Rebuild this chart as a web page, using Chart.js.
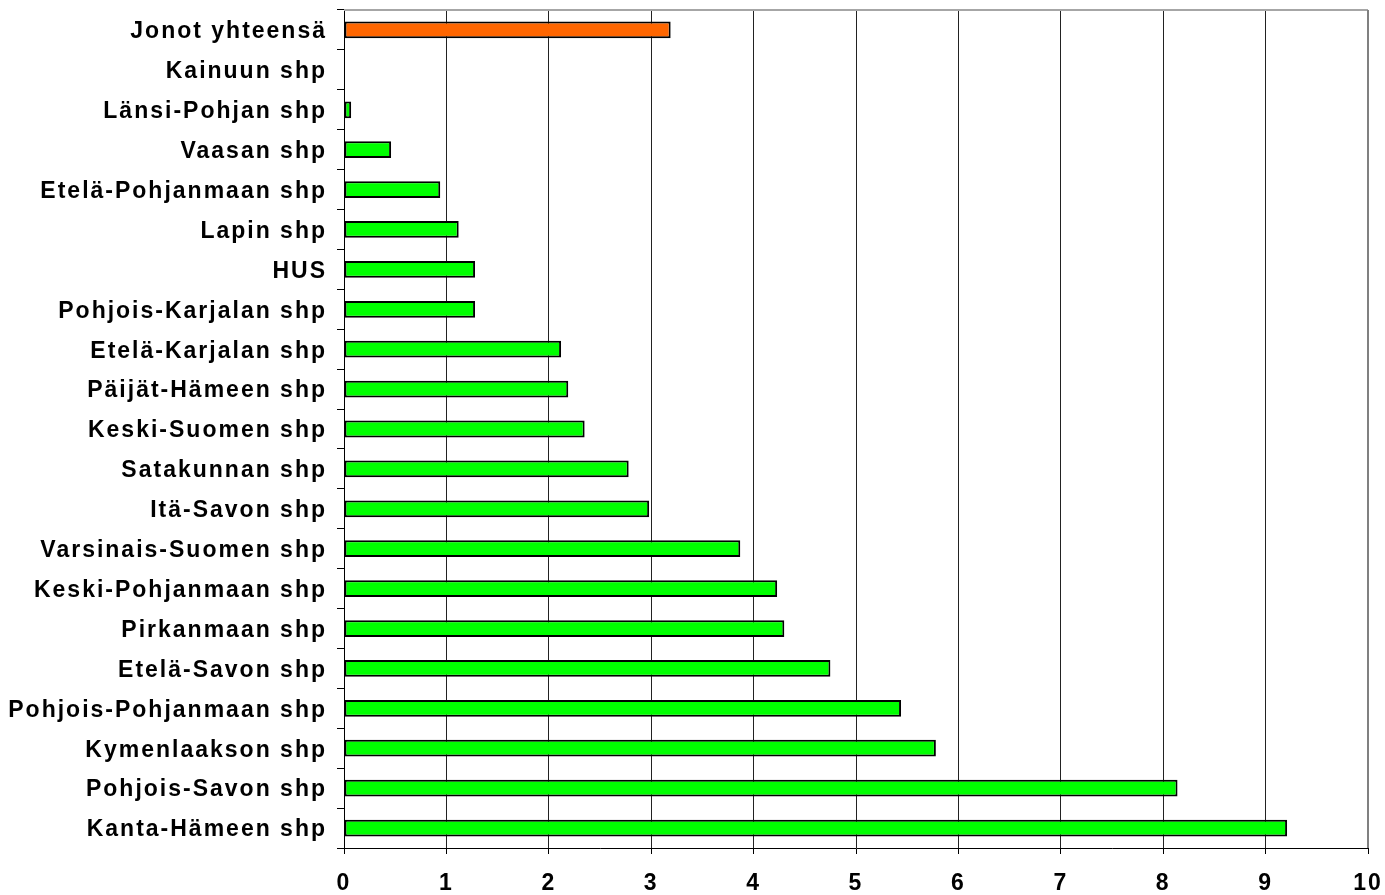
<!DOCTYPE html>
<html>
<head>
<meta charset="utf-8">
<script src="https://cdn.jsdelivr.net/npm/chart.js@4/dist/chart.umd.min.js"></script>
<style>
  html, body { margin: 0; padding: 0; background: #fff; }
  #wrap { position: relative; width: 1385px; height: 895px; }
</style>
</head>
<body>
<div id="wrap"><canvas id="chart"></canvas></div>
<script>
// Data
const regions = [
  'Jonot yhteensä', 'Kainuun shp', 'Länsi-Pohjan shp', 'Vaasan shp', 'Etelä-Pohjanmaan shp',
  'Lapin shp', 'HUS', 'Pohjois-Karjalan shp', 'Etelä-Karjalan shp', 'Päijät-Hämeen shp',
  'Keski-Suomen shp', 'Satakunnan shp', 'Itä-Savon shp', 'Varsinais-Suomen shp',
  'Keski-Pohjanmaan shp', 'Pirkanmaan shp', 'Etelä-Savon shp', 'Pohjois-Pohjanmaan shp',
  'Kymenlaakson shp', 'Pohjois-Savon shp', 'Kanta-Hämeen shp'
];
const values = [
  3.19, 0, 0.07, 0.46, 0.94,
  1.12, 1.28, 1.28, 2.12, 2.19,
  2.35, 2.78, 2.98, 3.87,
  4.23, 4.30, 4.75, 5.44,
  5.78, 8.14, 9.21
];
const xTicks = [0, 1, 2, 3, 4, 5, 6, 7, 8, 9, 10];

const barColors = regions.map(r => r === 'Jonot yhteensä' ? '#ff6600' : '#00ff00');

// Wider letter spacing, like the original
const spacingPlugin = {
  id: 'spacing',
  beforeDraw(chart) {
    chart.ctx.letterSpacing = '2px';
  }
};

// Gray frame on top and right of the plot area
const framePlugin = {
  id: 'frame',
  afterDraw(chart) {
    const { ctx, chartArea: a } = chart;
    ctx.save();
    ctx.lineWidth = 2;
    ctx.strokeStyle = '#a6a6a6';
    ctx.beginPath();
    ctx.moveTo(a.left, a.top);
    ctx.lineTo(a.right, a.top);
    ctx.stroke();
    ctx.strokeStyle = '#808080';
    ctx.beginPath();
    ctx.moveTo(a.right, a.top);
    ctx.lineTo(a.right, a.bottom);
    ctx.stroke();
    ctx.restore();
  }
};

const font = { family: "'Liberation Sans', Arial, sans-serif", size: 23, weight: 'bold' };

new Chart(document.getElementById('chart'), {
  type: 'bar',
  data: {
    labels: regions,
    datasets: [{
      data: values,
      backgroundColor: barColors,
      borderColor: '#000',
      borderWidth: 2,
      borderSkipped: false,
      barPercentage: 0.42,
      categoryPercentage: 1
    }]
  },
  options: {
    indexAxis: 'y',
    responsive: true,
    maintainAspectRatio: false,
    animation: false,
    layout: { padding: { top: 10, right: 17, left: 0, bottom: 0 } },
    plugins: { legend: { display: false }, tooltip: { enabled: false } },
    scales: {
      x: {
        min: 0,
        max: 10,
        afterBuildTicks: scale => { scale.ticks = xTicks.map(v => ({ value: v })); },
        afterFit: scale => {
          scale.height = 47;
          scale.paddingLeft = 0;
          scale.paddingRight = 0;
        },
        grid: { color: '#222', lineWidth: 1, tickLength: 6, tickColor: '#000' },
        border: { color: '#000', width: 1 },
        ticks: { color: '#000', font: font, padding: 16, maxRotation: 0 }
      },
      y: {
        afterFit: scale => {
          scale.width = 344;
          scale.paddingTop = 0;
          scale.paddingBottom = 0;
        },
        grid: { drawOnChartArea: false, tickLength: 7, tickColor: '#000', offset: true },
        border: { color: '#000', width: 1 },
        ticks: { color: '#000', font: font, padding: 10, labelOffset: 2, autoSkip: false }
      }
    }
  },
  plugins: [spacingPlugin, framePlugin]
});
</script>
</body>
</html>
